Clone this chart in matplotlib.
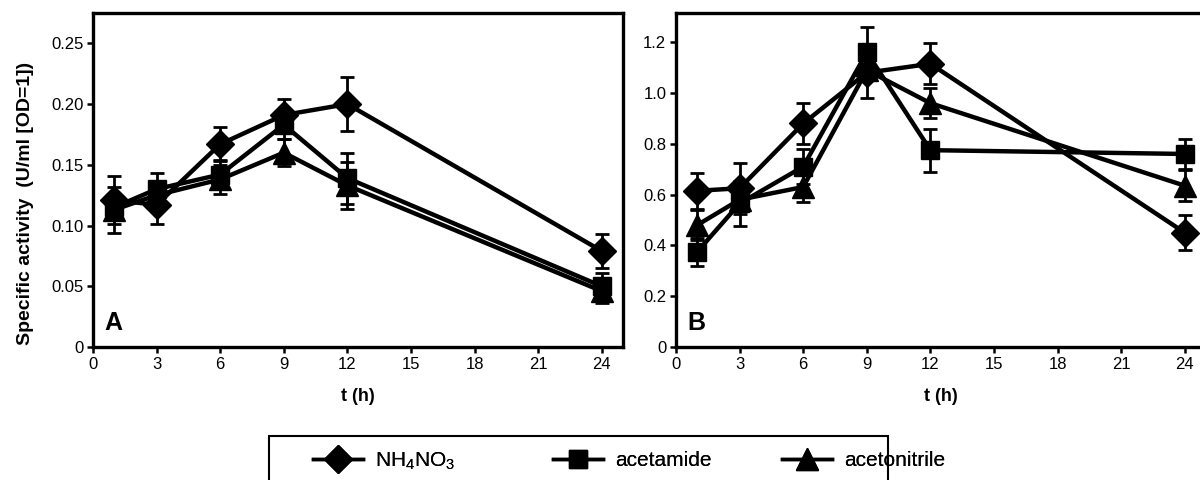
import matplotlib
matplotlib.use("Agg")
import matplotlib.pyplot as plt
from matplotlib.patches import Rectangle
from matplotlib.lines import Line2D

# ---- data ----
t = [1, 3, 6, 9, 12, 24]
series_names = ["NH$_4$NO$_3$", "acetamide", "acetonitrile"]

a_nh4no3 = [0.121, 0.117, 0.167, 0.191, 0.200, 0.079]
a_nh4no3_err = [0.020, 0.016, 0.014, 0.013, 0.022, 0.014]
a_acetamide = [0.115, 0.130, 0.142, 0.183, 0.139, 0.050]
a_acetamide_err = [0.010, 0.013, 0.012, 0.012, 0.021, 0.011]
a_acetonitrile = [0.113, 0.125, 0.138, 0.160, 0.133, 0.046]
a_acetonitrile_err = [0.019, 0.010, 0.012, 0.011, 0.019, 0.010]

b_nh4no3 = [0.615, 0.625, 0.880, 1.080, 1.115, 0.450]
b_nh4no3_err = [0.070, 0.100, 0.080, 0.100, 0.080, 0.070]
b_acetamide = [0.375, 0.565, 0.710, 1.160, 0.775, 0.760]
b_acetamide_err = [0.055, 0.090, 0.070, 0.100, 0.085, 0.060]
b_acetonitrile = [0.480, 0.580, 0.630, 1.090, 0.960, 0.635]
b_acetonitrile_err = [0.060, 0.040, 0.060, 0.040, 0.060, 0.060]

xticks = [0, 3, 6, 9, 12, 15, 18, 21, 24]
a_yticks = [0, 0.05, 0.10, 0.15, 0.20, 0.25]
a_yticklabels = ["0", "0.05", "0.10", "0.15", "0.20", "0.25"]
b_yticks = [0, 0.2, 0.4, 0.6, 0.8, 1.0, 1.2]
b_yticklabels = ["0", "0.2", "0.4", "0.6", "0.8", "1.0", "1.2"]

markers = ["D", "s", "^"]
msizes = [14, 13, 16]

plt.rcParams["font.family"] = ["Liberation Sans", "DejaVu Sans"]
plt.rcParams["mathtext.fontset"] = "custom"
plt.rcParams["mathtext.rm"] = "Liberation Sans"

fig = plt.figure(figsize=(12, 4.8), dpi=100)
axA = fig.add_axes([93/1200, 1-347/480, 530/1200, 334/480])
axB = fig.add_axes([676/1200, 1-347/480, 530/1200, 334/480])

def draw(ax, ys, errs, yticks, yticklabels, ylim, letter):
    for y, e, m, s in zip(ys, errs, markers, msizes):
        ax.errorbar(t, y, yerr=e, color="black", lw=3.2, marker=m, ms=s,
                    mfc="black", mec="black", capsize=5, capthick=2,
                    elinewidth=2, clip_on=False, zorder=3)
    ax.set_xlim(0, 25)
    ax.set_ylim(*ylim)
    ax.set_xticks(xticks)
    ax.set_xticklabels([str(v) for v in xticks], fontsize=12)
    ax.set_yticks(yticks)
    ax.set_yticklabels(yticklabels, fontsize=12)
    for sp in ax.spines.values():
        sp.set_linewidth(2.4)
    ax.tick_params(direction="out", length=4, width=1.8, top=False, right=False, pad=3)
    ax.set_xlabel("t (h)", fontweight="bold", fontsize=13, labelpad=12)
    ax.text(0.022, 0.035, letter, transform=ax.transAxes,
            fontweight="bold", fontsize=18, ha="left", va="bottom")

draw(axA, [a_nh4no3, a_acetamide, a_acetonitrile],
     [a_nh4no3_err, a_acetamide_err, a_acetonitrile_err],
     a_yticks, a_yticklabels, (0, 0.275), "A")
draw(axB, [b_nh4no3, b_acetamide, b_acetonitrile],
     [b_nh4no3_err, b_acetamide_err, b_acetonitrile_err],
     b_yticks, b_yticklabels, (0, 1.315), "B")

axA.set_ylabel("Specific activity  (U/ml [OD=1])",
               fontweight="bold", fontsize=14)
axA.yaxis.set_label_coords(-0.112, 0.43)

# legend box
rect = Rectangle((269/1200, -0.05), (888-269)/1200, (480-436)/480 + 0.05,
                 transform=fig.transFigure, fill=False, lw=1.5, ec="black",
                 clip_on=False)
fig.patches.append(rect)
handle_x = [313, 553, 782]
for name, m, s, hx in zip(series_names, markers, msizes, handle_x):
    h = Line2D([], [], color="black", lw=2.5, marker=m, ms=s)
    leg = fig.legend([h], [name], loc="center left",
                     bbox_to_anchor=(hx/1200, 1-461/480), frameon=False,
                     borderpad=0, borderaxespad=0, handlelength=2.4,
                     handletextpad=0.6, prop={"size": 15})
    fig.add_artist(leg)

fig.savefig("out.png", dpi=100)
